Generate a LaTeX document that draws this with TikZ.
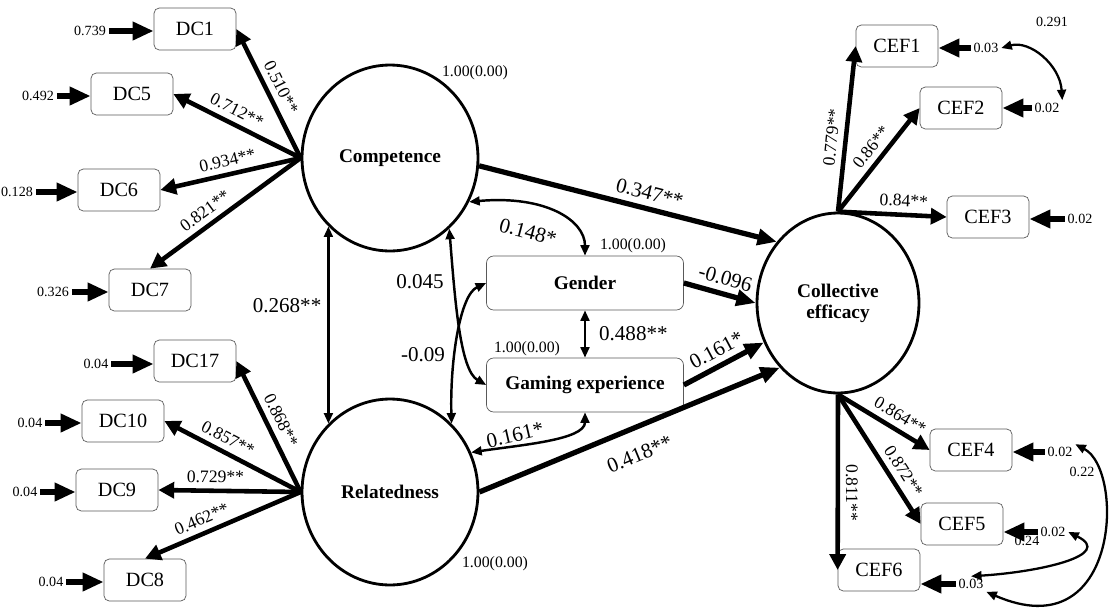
\documentclass[tikz,border=0pt]{standalone}
\usepackage{fontspec}
\setmainfont{Liberation Serif}
\usepackage{tikz}
\usetikzlibrary{arrows.meta,shapes.geometric}

\begin{document}
\begin{tikzpicture}[x=0.02cm, y=-0.02cm,
    latent/.style={draw, ellipse, line width=1.6pt, minimum width=3.52cm, minimum height=3.72cm, align=center, font=\fontsize{11}{12}\selectfont\bfseries},
    item/.style={draw=gray!70!black, rounded corners=3pt, minimum width=1.64cm, minimum height=0.84cm, font=\fontsize{11.5}{13}\selectfont},
    ctrl/.style={draw=gray!70!black, rounded corners=4pt, minimum width=3.94cm, minimum height=1.08cm, font=\fontsize{11}{13}\selectfont\bfseries},
    err/.style={inner sep=1.5pt, font=\fontsize{8}{9}\selectfont},
    varlab/.style={font=\fontsize{9}{10}\selectfont},
    errarr/.style={-{Triangle[length=12pt,width=10pt]}, line width=3.4pt},
    load/.style={-{Triangle[length=9pt,width=9pt]}, line width=2.6pt, font=\fontsize{10}{11}\selectfont},
    effect/.style={-{Triangle[length=11pt,width=9pt]}, line width=3pt, font=\fontsize{12}{13}\selectfont},
    corr/.style={{Triangle[length=6pt,width=5pt]}-{Triangle[length=6pt,width=5pt]}, line width=1.4pt, font=\fontsize{12}{13}\selectfont},
    errcorr/.style={{Triangle[length=6pt,width=5pt]}-{Triangle[length=6pt,width=5pt]}, line width=1.3pt},
    est/.style={font=\fontsize{12}{13}\selectfont}
]
    \useasboundingbox (0,0) rectangle (1110,609);

    % Latent factors
    \node[latent] (comp) at (390,158) {Competence};
    \node[latent] (rel) at (390,492) {Relatedness};
    \node[latent, minimum width=3.24cm, minimum height=3.6cm] (ce) at (838,303) {Collective\\efficacy};

    % Control variables
    \node[ctrl] (gen) at (585,283) {Gender};
    \node[ctrl] (game) at (585,385) {Gaming experience};

    % Items of competence and relatedness
    \node[item] (dc1) at (195,29) {DC1};
    \node[item] (dc5) at (132,94) {DC5};
    \node[item] (dc6) at (119,190) {DC6};
    \node[item] (dc7) at (150,290) {DC7};
    \node[item] (dc17) at (195,361) {DC17};
    \node[item] (dc10) at (123,421) {DC10};
    \node[item] (dc9) at (117,490) {DC9};
    \node[item] (dc8) at (145,580) {DC8};

    % Items of collective efficacy
    \node[item] (cef1) at (897,46) {CEF1};
    \node[item] (cef2) at (961,108) {CEF2};
    \node[item] (cef3) at (988,217) {CEF3};
    \node[item] (cef4) at (971,450) {CEF4};
    \node[item] (cef5) at (962,524) {CEF5};
    \node[item] (cef6) at (879,570) {CEF6};

    % Error terms
    \node[err] (e1) at (90,31) {0.739};
    \node[err] (e5) at (38,96) {0.492};
    \node[err] (e6) at (17,192) {0.128};
    \node[err] (e7) at (53,292) {0.326};
    \node[err] (e17) at (96,364) {0.04};
    \node[err] (e10) at (30,423) {0.04};
    \node[err] (e9) at (25,492) {0.04};
    \node[err] (e8) at (51,582) {0.04};
    \node[err] (r1) at (986,48) {0.03};
    \node[err] (r2) at (1047,108) {0.02};
    \node[err] (r3) at (1080,219) {0.02};
    \node[err] (r4) at (1060,452) {0.02};
    \node[err] (r5) at (1053,532) {0.02};
    \node[err] (r6) at (971,584) {0.03};

    \draw[errarr] (e1) -- (e1 -| dc1.west);
    \draw[errarr] (e5) -- (e5 -| dc5.west);
    \draw[errarr] (e6) -- (e6 -| dc6.west);
    \draw[errarr] (e7) -- (e7 -| dc7.west);
    \draw[errarr] (e17) -- (e17 -| dc17.west);
    \draw[errarr] (e10) -- (e10 -| dc10.west);
    \draw[errarr] (e9) -- (e9 -| dc9.west);
    \draw[errarr] (e8) -- (e8 -| dc8.west);
    \draw[errarr] (r1) -- (r1 -| cef1.east);
    \draw[errarr] (r2) -- (r2 -| cef2.east);
    \draw[errarr] (r3) -- (r3 -| cef3.east);
    \draw[errarr] (r4) -- (r4 -| cef4.east);
    \draw[errarr] (r5) -- (r5 -| cef5.east);
    \draw[errarr] (r6) -- (r6 -| cef6.east);

    % Loadings
    \draw[load] (comp.west) -- node[pos=0.5, sloped, above] {0.510**} (dc1.east);
    \draw[load] (comp.west) -- node[pos=0.55, sloped, above] {0.712**} (dc5.east);
    \draw[load] (comp.west) -- node[pos=0.5, sloped, above] {0.934**} (dc6.east);
    \draw[load] (comp.west) -- node[pos=0.58, sloped, above] {0.821**} (dc7.north);
    \draw[load] (rel.west) -- node[pos=0.5, sloped, above] {0.868**} (dc17.east);
    \draw[load] (rel.west) -- node[pos=0.58, sloped, above] {0.857**} (dc10.east);
    \draw[load] (rel.west) -- node[pos=0.6, sloped, above] {0.729**} (dc9.east);
    \draw[load] (rel.west) -- node[pos=0.6, sloped, above] {0.462**} (dc8.north);
    \draw[load] (ce.north) -- node[pos=0.44, sloped, above] {0.779**} (cef1.west);
    \draw[load] (ce.north) -- node[pos=0.54, sloped, above] {0.86**} (cef2.west);
    \draw[load] (ce.north) -- node[pos=0.6, sloped, above] {0.84**} (cef3.west);
    \draw[load] (ce.south) -- node[pos=0.6, sloped, above] {0.864**} (cef4.west);
    \draw[load] (ce.south) -- node[pos=0.65, sloped, above] {0.872**} (cef5.west);
    \draw[load] (ce.south) -- node[pos=0.56, rotate=-90, anchor=south] {0.811**} (cef6.west);

    % Paths to collective efficacy
    \draw[effect] (comp.-5) -- node[pos=0.56, sloped, above] {0.347**} (ce.135);
    \draw[effect] (gen.east) -- node[pos=0.52, sloped, above] {-0.096} (ce.west);
    \draw[effect] (game.east) -- node[pos=0.5, sloped, above] {0.161*} (ce.208);
    \draw[effect] (rel.east) -- node[pos=0.5, sloped, below=6pt] {0.418**} (ce.228);

    % Correlations
    \draw[corr] (comp.228) -- node[pos=0.4, left] {0.268**} (rel.132);
    \draw[corr] (comp.-29) .. controls (545,195) and (585,220) .. (gen.north);
    \draw[corr] (comp.-50) .. controls (455,300) and (460,370) .. (game.west);
    \draw[corr] (gen.west) .. controls (460,295) and (450,360) .. (rel.48);
    \draw[corr] (rel.26) .. controls (520,445) and (585,440) .. (game.south);
    \draw[corr] (gen.south) -- node[right=4pt] {0.488**} (game.north);
    \node[est, rotate=-15] (c148) at (528,232) {0.148*};
    \node[est] (c045) at (420,282) {0.045};
    \node[est] (c009) at (423,355) {-0.09};
    \node[est, rotate=13] (c161) at (515,435) {0.161*};

    % Error covariances
    \draw[errcorr] (r1.east) .. controls (1030,40) and (1060,65) .. (r2.north east);
    \draw[errcorr] (r4.north east) .. controls (1125,470) and (1120,650) .. (r6.south east);
    \draw[errcorr] (r5.east) .. controls (1115,555) and (1040,572) .. (r6.north);
    \node[varlab, font=\fontsize{8}{9}\selectfont] (k291) at (1052,22) {0.291};
    \node[varlab, font=\fontsize{8}{9}\selectfont] (k22) at (1082,472) {0.22};
    \node[varlab, font=\fontsize{8}{9}\selectfont] (k24) at (1027,541) {0.24};

    % Variances
    \node[varlab] (vcomp) at (475,73) {1.00(0.00)};
    \node[varlab] (vgen) at (633,246) {1.00(0.00)};
    \node[varlab] (vgame) at (527,349) {1.00(0.00)};
    \node[varlab] (vrel) at (495,564) {1.00(0.00)};
\end{tikzpicture}
\end{document}
